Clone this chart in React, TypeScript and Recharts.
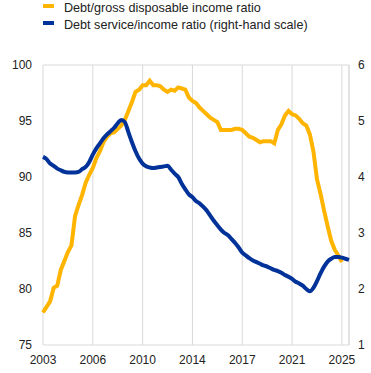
import React from 'react';
import { ComposedChart, Line, XAxis, YAxis, CartesianGrid, ReferenceLine } from 'recharts';

// Quarterly index from 2003 Q1
const debtIncomeRatio: number[] = [
  77.9, 78.4, 78.9, 80.1, 80.3, 81.7, 82.5, 83.3, 83.9, 86.5,
  87.5, 88.4, 89.5, 90.2, 90.8, 91.7, 92.3, 93.1, 93.6, 93.9,
  94.0, 94.3, 94.6, 95.1, 95.9, 96.7, 97.6, 97.8, 98.2, 98.2,
  98.6, 98.2, 98.2, 98.1, 97.8, 97.6, 97.8, 97.7, 98.0, 97.9,
  97.8, 97.1, 96.8, 96.6, 96.2, 95.9, 95.6, 95.3, 95.1, 94.9,
  94.2, 94.2, 94.2, 94.2, 94.3, 94.3, 94.2, 93.9, 93.6, 93.5,
  93.3, 93.1, 93.2, 93.2, 93.2, 93.0, 94.2, 94.7, 95.5, 95.9,
  95.6, 95.5, 95.2, 94.8, 94.6, 93.8, 92.3, 89.8, 88.5, 87.0,
  85.6, 84.3, 83.5, 83.0, 82.4,
];

const debtServiceRatio: number[] = [
  4.36, 4.32, 4.24, 4.20, 4.15, 4.12, 4.09, 4.08, 4.08, 4.08,
  4.09, 4.14, 4.18, 4.27, 4.40, 4.51, 4.60, 4.69, 4.76, 4.82,
  4.88, 4.96, 5.02, 4.98, 4.80, 4.62, 4.46, 4.33, 4.24, 4.19,
  4.17, 4.16, 4.17, 4.18, 4.19, 4.20, 4.13, 4.06, 4.00, 3.88,
  3.78, 3.69, 3.64, 3.57, 3.53, 3.47, 3.40, 3.31, 3.22, 3.14,
  3.06, 3.00, 2.96, 2.89, 2.82, 2.74, 2.65, 2.60, 2.55, 2.51,
  2.48, 2.45, 2.42, 2.40, 2.37, 2.34, 2.32, 2.29, 2.25, 2.22,
  2.18, 2.13, 2.10, 2.06, 2.00, 1.96, 2.02, 2.14, 2.28, 2.40,
  2.49, 2.54, 2.57, 2.57, 2.56, 2.54, 2.52,
];

const xTickPositions: number[] = [0, 14, 28, 42, 56, 70, 84];
const xTickLabels: string[] = ['2003', '2006', '2010', '2014', '2017', '2021', '2025'];
const leftTicks: number[] = [75, 80, 85, 90, 95, 100];
const rightTicks: number[] = [1, 2, 3, 4, 5, 6];
const seriesNames: string[] = ['Debt/gross disposable income ratio', 'Debt service/income ratio (right-hand scale)'];

const YELLOW = '#FFB400';
const BLUE = '#003299';
const GRID = '#d9d9d9';
const FONT = 'Arial, "Liberation Sans", sans-serif';

const lastIndex = debtServiceRatio.length - 1;
const data = debtServiceRatio.map((s, i) => ({
  i,
  debt: i < debtIncomeRatio.length ? debtIncomeRatio[i] : null,
  service: s,
}));

const tickStyle = { fontSize: 12, fill: '#222', fontFamily: FONT };

export default function App() {
  return (
    <div style={{ position: 'absolute', left: 0, top: 0, width: 371, height: 373, background: '#fff' }}>
      <div style={{ position: 'absolute', left: 0, top: 0, fontFamily: FONT, fontSize: 12.6, color: '#222' }}>
        {[YELLOW, BLUE].map((c, k) => (
          <div key={k} style={{ position: 'absolute', left: 0, top: k * 16.5, whiteSpace: 'nowrap', height: 16, width: 371 }}>
            <div style={{ position: 'absolute', left: 43, top: 4, width: 11, height: 4, background: c }} />
            <span style={{ position: 'absolute', left: 64, top: 0, lineHeight: '16px' }}>{seriesNames[k]}</span>
          </div>
        ))}
      </div>
      <ComposedChart width={371} height={373} data={data} margin={{ top: 65, right: 0, bottom: 0, left: 0 }}>
        <CartesianGrid stroke={GRID} strokeWidth={1} />
        <XAxis
          dataKey="i"
          type="number"
          domain={[0, lastIndex]}
          ticks={xTickPositions}
          tickFormatter={(v: number) => xTickLabels[xTickPositions.indexOf(v)] ?? ''}
          axisLine={false}
          tickLine={false}
          tickSize={0}
          tickMargin={10}
          height={28}
          tick={tickStyle}
          interval={0}
        />
        <YAxis
          yAxisId="left"
          domain={[75, 100]}
          ticks={leftTicks}
          axisLine={false}
          tickLine={false}
          tickSize={0}
          tickMargin={11}
          width={43}
          tick={tickStyle}
          interval={0}
        />
        <YAxis
          yAxisId="right"
          orientation="right"
          domain={[1, 6]}
          ticks={rightTicks}
          axisLine={false}
          tickLine={false}
          tickSize={0}
          tickMargin={9}
          width={22}
          tick={tickStyle}
          interval={0}
        />
        <ReferenceLine yAxisId="left" x={lastIndex} stroke={GRID} strokeWidth={1} />
        <Line
          yAxisId="left"
          dataKey="debt"
          type="linear"
          stroke={YELLOW}
          strokeWidth={4}
          dot={false}
          isAnimationActive={false}
          connectNulls={false}
        />
        <Line
          yAxisId="right"
          dataKey="service"
          type="monotone"
          stroke={BLUE}
          strokeWidth={4}
          dot={false}
          isAnimationActive={false}
        />
      </ComposedChart>
    </div>
  );
}
